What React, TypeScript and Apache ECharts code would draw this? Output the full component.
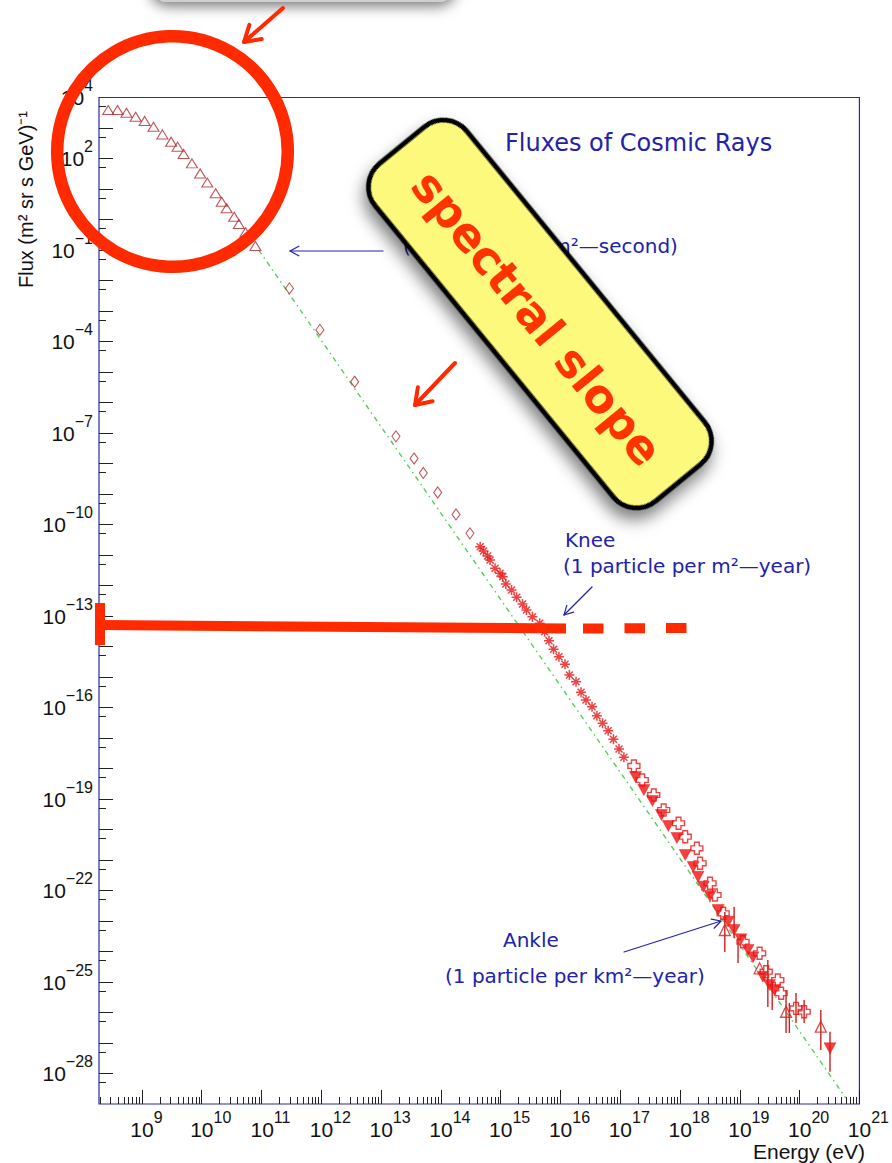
import { useEffect, useRef } from 'react';
import * as echarts from 'echarts';

// Plot ranges: energy in eV, flux in (m^2 sr s GeV)^-1
const E_MIN = 1.914e8;
const E_MAX = 1e21;
const FLUX_MIN = 1e-29;
const FLUX_MAX = 1e4;

// Tick labels (powers of ten)
const X_LABEL_EXPONENTS = [9, 10, 11, 12, 13, 14, 15, 16, 17, 18, 19, 20, 21];
const Y_LABEL_EXPONENTS = [4, 2, -1, -4, -7, -10, -13, -16, -19, -22, -25, -28];

// Low-energy direct measurements (open triangles)
const LOW_E = [2.73e8, 3.91e8, 5.51e8, 7.85e8, 1.11e9, 1.56e9, 2.2e9, 3.08e9, 3.95e9, 4.98e9, 6.86e9, 9.42e9, 1.24e10, 1.71e10, 2.16e10, 2.61e10, 3.49e10, 4.18e10, 5.4e10, 7.91e10];
const LOW_FLUX = [3890, 3890, 3160, 2340, 1700, 1100, 617, 355, 245, 141, 69.2, 32.4, 16.2, 7.24, 3.8, 2.34, 1.23, 0.708, 0.38, 0.135];

// Balloon / satellite data (open diamonds)
const DIAMOND_E = [2.93e11, 9.46e11, 3.61e12, 1.77e13, 3.56e13, 5.08e13, 8.85e13, 1.79e14, 3.06e14];
const DIAMOND_FLUX = [5.5e-3, 2.4e-4, 4.79e-6, 7.76e-8, 1.45e-8, 4.9e-9, 1.12e-9, 2.14e-10, 5.13e-11];

// Air-shower data around the knee (asterisks)
const STAR_E = [4.54e14, 5.16e14, 6.03e14, 6.65e14, 8.05e14, 9.75e14, 1.08e15, 1.22e15, 1.52e15, 1.85e15, 2.32e15, 2.7e15, 3.4e15, 4.49e15, 5.43e15, 6.43e15, 7.67e15, 9.42e15, 1.19e16, 1.41e16, 1.82e16, 2.21e16, 2.67e16, 3.37e16, 4.07e16, 5.06e16, 6.27e16, 7.69e16, 9.53e16, 1.15e17];
const STAR_FLUX = [1.87e-11, 1.35e-11, 9.27e-12, 6.85e-12, 3.66e-12, 2.51e-12, 1.95e-12, 1.12e-12, 7.11e-13, 4.1e-13, 2.47e-13, 1.57e-13, 9.48e-14, 5.77e-14, 3.05e-14, 1.55e-14, 8.09e-15, 4.63e-15, 2.61e-15, 1.16e-15, 7.02e-16, 3.15e-16, 1.76e-16, 1.06e-16, 5.38e-17, 3.03e-17, 1.73e-17, 9.06e-18, 4.36e-18, 2.33e-18];

// Ultra-high-energy data (open crosses)
const CROSS_E = [1.69e17, 2.33e17, 3.63e17, 5.32e17, 9.44e17, 1.22e18, 1.91e18, 2.16e18, 3.17e18, 3.84e18, 5.26e18, 1.13e19, 2.14e19, 2.76e19, 4.31e19, 4.9e19, 8.69e19, 1.19e20];
const CROSS_FLUX = [1.21e-18, 4.2e-19, 1.35e-19, 4.36e-20, 1.6e-20, 5.81e-21, 2.42e-21, 7.8e-22, 1.72e-22, 7.11e-23, 1.79e-23, 2.09e-24, 8.73e-25, 2.18e-25, 1.16e-25, 4.27e-26, 1.37e-26, 1.06e-26];

// Ultra-high-energy data (filled down-triangles)
const DOWN_E = [1.8e17, 2.48e17, 3.45e17, 4.88e17, 6.37e17, 8.87e17, 1.22e18, 1.66e18, 2.0e18, 2.45e18, 3.17e18, 4.35e18, 6.37e18, 8.02e18, 1.04e19, 1.37e19, 1.66e19, 2.43e19, 3.13e19, 3.79e19, 3.22e20];
const DOWN_FLUX = [5.26e-19, 1.97e-19, 8.59e-20, 2.99e-20, 1.3e-20, 5.26e-21, 1.46e-21, 5.89e-22, 2.83e-22, 1.33e-22, 6.61e-23, 2.3e-23, 9.48e-24, 5.07e-24, 2.51e-24, 1.12e-24, 6.46e-25, 1.49e-25, 7.98e-26, 5.47e-26, 6.7e-28];

// Ultra-high-energy data (open up-triangles)
const HIGH_TRI_E = [5.61e18, 2.14e19, 5.93e19, 2.26e20];
const HIGH_TRI_FLUX = [5.07e-24, 2.81e-25, 1.06e-26, 3.42e-27];

// Vertical error bars at the highest energies
const ERR_E = [5.61e18, 8.02e18, 9.33e18, 2.94e19, 3.48e19, 5.93e19, 6.73e19, 8.69e19, 1.19e20, 2.26e20, 3.22e20];
const ERR_LOW = [9.64e-25, 2.71e-24, 4.2e-25, 1.51e-26, 1.21e-26, 2.13e-27, 2.13e-27, 4.53e-27, 4.53e-27, 5.89e-28, 1.15e-28];
const ERR_HIGH = [1.97e-23, 2.94e-23, 2.77e-24, 5.26e-25, 9.27e-26, 5.47e-26, 2.05e-26, 4.36e-26, 2.57e-26, 1.21e-26, 2.34e-27];

// Power-law guide line (end points)
const GUIDE_E = [8.98e10, 5.9e20];
const GUIDE_FLUX = [1e-1, 1.58e-29];

const NAVY = '#2222aa';
const FRAME = '#2b2b94';
const MARK_RED = '#e81414';
const DARK_RED = '#b02a30';
const PEN_RED = '#ff2a00';
const LABEL_FONT = '"Liberation Sans", Arial, sans-serif';
const NOTE_FONT = '"DejaVu Sans", sans-serif';

const pairs = (xs: number[], ys: number[]) => xs.map((x, i) => [x, ys[i]]);

function arrowHead(tip: number[], from: number[], len: number, half: number) {
  const a = Math.atan2(from[1] - tip[1], from[0] - tip[0]);
  return [
    [tip[0] + len * Math.cos(a + half), tip[1] + len * Math.sin(a + half)],
    tip,
    [tip[0] + len * Math.cos(a - half), tip[1] + len * Math.sin(a - half)],
  ];
}

function arrow(from: number[], tip: number[], color: string, width: number, len: number, half: number, z: number) {
  return [
    { type: 'line', z, shape: { x1: from[0], y1: from[1], x2: tip[0], y2: tip[1] }, style: { stroke: color, lineWidth: width, lineCap: 'round' } },
    { type: 'polyline', z, shape: { points: arrowHead(tip, from, len, half) }, style: { stroke: color, lineWidth: width, fill: 'none', lineCap: 'round', lineJoin: 'round' } },
  ];
}

function noteText(text: string, x: number, y: number, z = 30) {
  return {
    type: 'text', x, y, z,
    style: { text, fill: NAVY, fontSize: 20, fontFamily: NOTE_FONT, align: 'left', verticalAlign: 'middle' },
  };
}

const xLogMin = Math.log10(E_MIN);
const xLogMax = Math.log10(E_MAX);
const yLogMin = Math.log10(FLUX_MIN);
const yLogMax = Math.log10(FLUX_MAX);

const xMajorTicks: number[] = [];
const xMinorTicks: number[] = [];
for (let n = 8; n <= 20; n++) {
  if (n >= 9) xMajorTicks.push(n);
  for (let k = 2; k <= 9; k++) {
    const v = n + Math.log10(k);
    if (v > xLogMin && v < xLogMax) xMinorTicks.push(v);
  }
}
xMajorTicks.push(21);
const yMajorTicks: number[] = [];
const yMinorTicks: number[] = [];
for (let n = -28; n <= 3; n++) yMajorTicks.push(n);
for (let n = -29; n <= 3; n++) yMinorTicks.push(n + Math.log10(5));

const supText = (e: number) => (e < 0 ? '\u2212' + Math.abs(e) : String(e));

const labelRich = {
  b: { fontSize: 21, fontFamily: LABEL_FONT, color: '#111' },
  s: { fontSize: 16, fontFamily: LABEL_FONT, color: '#111', padding: [0, 0, 24, 0] },
  p1: { width: 9 },
  p2: { width: 18 },
};

const hiddenAxis = { show: false };
const bareLine = { show: false, onZero: false };

export default function App() {
  const ref = useRef<HTMLDivElement>(null);

  useEffect(() => {
    if (!ref.current) return;
    document.body.style.margin = '0';
    const chart = echarts.init(ref.current, undefined, { renderer: 'svg' });

    const stickyAngle = -50.7 * Math.PI / 180;

    const option: any = {
      animation: false,
      backgroundColor: '#ffffff',
      grid: {
        left: 99, top: 97.5, right: 26.5, bottom: 59,
        show: true, borderColor: FRAME, borderWidth: 1.2, backgroundColor: 'transparent',
      },
      xAxis: [
        { type: 'log', logBase: 10, min: E_MIN, max: E_MAX, position: 'bottom', axisLine: bareLine, ...hiddenAxis },
        {
          type: 'value', min: xLogMin, max: xLogMax, position: 'bottom',
          axisLine: bareLine, splitLine: { show: false },
          axisTick: { show: true, inside: true, length: 14, customValues: xMajorTicks, lineStyle: { color: '#222', width: 1 } },
          axisLabel: {
            show: true, customValues: X_LABEL_EXPONENTS, margin: 5,
            formatter: (v: number) => {
              const e = Math.round(v);
              return `{${e >= 10 ? 'p2' : 'p1'}| }{b|10}{s|${supText(e)}}`;
            },
            rich: labelRich,
          },
        },
        {
          type: 'value', min: xLogMin, max: xLogMax, position: 'bottom',
          axisLine: bareLine, splitLine: { show: false }, axisLabel: { show: false },
          axisTick: { show: true, inside: true, length: 7, customValues: xMinorTicks, lineStyle: { color: '#222', width: 1 } },
        },
      ],
      yAxis: [
        { type: 'log', logBase: 10, min: FLUX_MIN, max: FLUX_MAX, position: 'left', axisLine: bareLine, ...hiddenAxis },
        {
          type: 'value', min: yLogMin, max: yLogMax, position: 'left',
          axisLine: bareLine, splitLine: { show: false },
          axisTick: { show: true, inside: true, length: 14, customValues: yMajorTicks, lineStyle: { color: '#222', width: 1 } },
          axisLabel: {
            show: true, customValues: Y_LABEL_EXPONENTS, margin: 6,
            formatter: (v: number) => `{b|10}{s|${supText(Math.round(v))}}`,
            rich: labelRich,
          },
        },
        {
          type: 'value', min: yLogMin, max: yLogMax, position: 'left',
          axisLine: bareLine, splitLine: { show: false }, axisLabel: { show: false },
          axisTick: { show: true, inside: true, length: 7, customValues: yMinorTicks, lineStyle: { color: '#222', width: 1 } },
        },
      ],
      series: [
        {
          type: 'line', xAxisIndex: 0, yAxisIndex: 0, silent: true, z: 2,
          data: pairs(GUIDE_E, GUIDE_FLUX), symbol: 'none',
          lineStyle: { color: '#55d055', width: 1.4, type: [5, 4, 1.5, 4] },
        },
        {
          type: 'custom', xAxisIndex: 0, yAxisIndex: 0, silent: true, z: 3,
          data: ERR_E.map((e, i) => [e, ERR_LOW[i], ERR_HIGH[i]]),
          encode: { x: 0, y: [1, 2] },
          renderItem: (_p: any, api: any) => {
            const a = api.coord([api.value(0), api.value(1)]);
            const b = api.coord([api.value(0), api.value(2)]);
            return { type: 'line', shape: { x1: a[0], y1: a[1], x2: b[0], y2: b[1] }, style: { stroke: '#cc2020', lineWidth: 1.4 } };
          },
        },
        {
          type: 'scatter', xAxisIndex: 0, yAxisIndex: 0, z: 4, data: pairs(LOW_E, LOW_FLUX),
          symbol: 'triangle', symbolSize: [11, 9],
          itemStyle: { color: 'transparent', borderColor: DARK_RED, borderWidth: 1.1 },
        },
        {
          type: 'scatter', xAxisIndex: 0, yAxisIndex: 0, z: 4, data: pairs(DIAMOND_E, DIAMOND_FLUX),
          symbol: 'diamond', symbolSize: [8, 11],
          itemStyle: { color: 'transparent', borderColor: DARK_RED, borderWidth: 1.1 },
        },
        {
          type: 'scatter', xAxisIndex: 0, yAxisIndex: 0, z: 4, data: pairs(STAR_E, STAR_FLUX),
          symbol: 'path://M5 0V10M0 5H10M1.5 1.5L8.5 8.5M1.5 8.5L8.5 1.5', symbolSize: 10,
          itemStyle: { color: 'transparent', borderColor: MARK_RED, borderWidth: 1.5 },
        },
        {
          type: 'scatter', xAxisIndex: 0, yAxisIndex: 0, z: 4, data: pairs(CROSS_E, CROSS_FLUX),
          symbol: 'path://M3 0H7V3H10V7H7V10H3V7H0V3H3Z', symbolSize: 12,
          itemStyle: { color: 'transparent', borderColor: MARK_RED, borderWidth: 1.4 },
        },
        {
          type: 'scatter', xAxisIndex: 0, yAxisIndex: 0, z: 5, data: pairs(DOWN_E, DOWN_FLUX),
          symbol: 'triangle', symbolRotate: 180, symbolSize: [12, 11],
          itemStyle: { color: '#f01010', borderColor: '#f01010', borderWidth: 0.5 },
        },
        {
          type: 'scatter', xAxisIndex: 0, yAxisIndex: 0, z: 5, data: pairs(HIGH_TRI_E, HIGH_TRI_FLUX),
          symbol: 'triangle', symbolSize: [11, 11],
          itemStyle: { color: 'transparent', borderColor: '#d02020', borderWidth: 1.3 },
        },
      ],
      graphic: [
        // shadowed callout just above the page edge
        {
          type: 'rect', z: 60, shape: { x: 150, y: -60, width: 306, height: 62, r: 18 },
          style: { fill: '#cfcfcf', shadowBlur: 14, shadowOffsetY: 4, shadowColor: 'rgba(0,0,0,0.55)' },
        },
        {
          type: 'text', x: 505, y: 143, z: 30,
          style: { text: 'Fluxes of Cosmic Rays', fill: NAVY, fontSize: 24, fontFamily: NOTE_FONT, align: 'left', verticalAlign: 'middle' },
        },
        noteText('(1 particle per m\u00b2\u2014second)', 403, 246),
        noteText('Knee', 565, 540),
        noteText('(1 particle per m\u00b2\u2014year)', 563, 566),
        noteText('Ankle', 503, 940),
        noteText('(1 particle per km\u00b2\u2014year)', 445, 976),
        ...arrow([383, 251], [290, 251], NAVY, 1.2, 10, 0.5, 30),
        ...arrow([592, 587], [564, 615], NAVY, 1.2, 10, 0.5, 30),
        ...arrow([624, 952], [721, 921], NAVY, 1.2, 10, 0.5, 30),
        // axis titles
        {
          type: 'text', x: 865, y: 1151, z: 30,
          style: { text: 'Energy (eV)', fill: '#111', fontSize: 21, fontFamily: LABEL_FONT, align: 'right', verticalAlign: 'middle' },
        },
        {
          type: 'text', x: 26, y: 288, z: 30, rotation: Math.PI / 2,
          style: { text: 'Flux (m\u00b2 sr s GeV)\u207b\u00b9', fill: '#111', fontSize: 20, fontFamily: LABEL_FONT, align: 'left', verticalAlign: 'middle' },
        },
        // hand-drawn highlights
        {
          type: 'circle', z: 90, shape: { cx: 172.5, cy: 151.5, r: 115.3 },
          style: { fill: 'none', stroke: PEN_RED, lineWidth: 12.5 },
        },
        ...arrow([283, 8], [244, 42], PEN_RED, 4, 18, 0.55, 90),
        ...arrow([455, 363], [415, 405], PEN_RED, 4, 18, 0.6, 90),
        {
          type: 'line', z: 90, shape: { x1: 100, y1: 625, x2: 566, y2: 628.5 },
          style: { stroke: PEN_RED, lineWidth: 10 },
        },
        { type: 'rect', z: 90, shape: { x: 95, y: 603, width: 10, height: 42 }, style: { fill: PEN_RED } },
        {
          type: 'line', z: 90, shape: { x1: 583, y1: 628.5, x2: 687, y2: 628 },
          style: { stroke: PEN_RED, lineWidth: 10, lineDash: [20.5, 21] },
        },
        // sticky note
        {
          type: 'rect', z: 100, x: 540, y: 314, rotation: stickyAngle,
          shape: { x: -218, y: -59, width: 436, height: 118, r: 30 },
          style: { fill: '#fdf97c', stroke: '#000', lineWidth: 5, shadowBlur: 16, shadowOffsetX: 6, shadowOffsetY: 8, shadowColor: 'rgba(0,0,0,0.5)' },
        },
        {
          type: 'text', z: 101, x: 537, y: 318, rotation: stickyAngle,
          style: { text: 'spectral slope', fill: '#ff3300', fontSize: 46, fontWeight: 'bold', fontFamily: NOTE_FONT, align: 'center', verticalAlign: 'middle' },
        },
      ],
    };

    chart.setOption(option);
    return () => chart.dispose();
  }, []);

  return <div ref={ref} style={{ position: 'fixed', left: 0, top: 0, width: 892, height: 1163 }} />;
}
